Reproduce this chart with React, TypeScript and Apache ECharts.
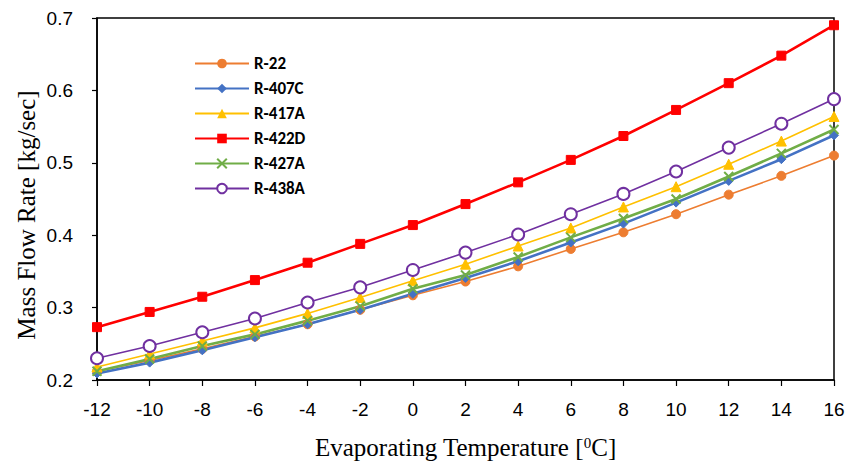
import React, { useEffect, useRef } from "react";
import * as echarts from "echarts";

// Evaporating temperature, °C
const temps = [-12, -10, -8, -6, -4, -2, 0, 2, 4, 6, 8, 10, 12, 14, 16];

// Mass flow rate, kg/sec
const r22 = [0.212, 0.227, 0.243, 0.26, 0.277, 0.297, 0.317, 0.336, 0.357, 0.381, 0.404, 0.429, 0.456, 0.482, 0.51];
const r407c = [0.209, 0.224, 0.241, 0.259, 0.277, 0.297, 0.319, 0.341, 0.364, 0.39, 0.416, 0.445, 0.475, 0.505, 0.538];
const r417a = [0.218, 0.236, 0.254, 0.272, 0.292, 0.314, 0.337, 0.36, 0.385, 0.41, 0.439, 0.467, 0.498, 0.53, 0.564];
const r422d = [0.273, 0.294, 0.315, 0.338, 0.362, 0.388, 0.414, 0.443, 0.473, 0.504, 0.537, 0.573, 0.61, 0.648, 0.69];
const r427a = [0.212, 0.229, 0.247, 0.263, 0.282, 0.302, 0.326, 0.345, 0.37, 0.397, 0.423, 0.45, 0.481, 0.513, 0.546];
const r438a = [0.23, 0.247, 0.266, 0.285, 0.307, 0.328, 0.352, 0.376, 0.401, 0.429, 0.457, 0.488, 0.521, 0.554, 0.588];

const xTicks = temps;
const yTicks = [0.2, 0.3, 0.4, 0.5, 0.6, 0.7];

const tickFont = "'Liberation Sans Narrow', 'Liberation Sans', Arial, sans-serif";
const serif = "'Liberation Serif', 'Times New Roman', serif";

const pairs = (vals: number[]) => temps.map((t, i) => [t, vals[i]]);

const crossSymbol = "path://M0,0L10,10M10,0L0,10";

export default function App() {
  const ref = useRef<HTMLDivElement>(null);

  useEffect(() => {
    if (!ref.current) return;
    const chart = echarts.init(ref.current, null, { renderer: "svg" });

    const mk = (
      name: string,
      vals: number[],
      color: string,
      symbol: string,
      symbolSize: number,
      width: number,
      extra: any = {}
    ) => ({
      name,
      type: "line",
      data: pairs(vals),
      symbol,
      symbolSize,
      showSymbol: true,
      lineStyle: { color, width },
      itemStyle: { color, borderColor: color, ...(extra.itemStyle || {}) },
      z: 2,
    });

    chart.setOption({
      animation: false,
      backgroundColor: "#ffffff",
      grid: {
        left: 97,
        right: 15,
        top: 18,
        bottom: 88,
        show: true,
        borderColor: "#000000",
        borderWidth: 1.5,
        backgroundColor: "transparent",
      },
      legend: {
        orient: "vertical",
        left: 189,
        top: 50,
        itemWidth: 54,
        itemHeight: 12,
        itemGap: 8,
        textStyle: {
          fontFamily: "Carlito, 'Liberation Sans', Arial, sans-serif",
          fontWeight: "bold",
          fontSize: 17,
          color: "#000",
        },
        data: ["R-22", "R-407C", "R-417A", "R-422D", "R-427A", "R-438A"],
      },
      // Y-axis title, placed by hand so it sits beside the tick labels
      graphic: [
        {
          type: "text",
          x: 26,
          y: 215,
          rotation: Math.PI / 2,
          style: {
            text: "Mass Flow Rate [kg/sec]",
            font: `25px ${serif}`,
            fill: "#000",
            align: "center",
            verticalAlign: "middle",
          },
        },
      ],
      xAxis: {
        type: "value",
        min: xTicks[0],
        max: xTicks[xTicks.length - 1],
        interval: 2,
        name: "Evaporating Temperature [{sup|0}C]",
        nameLocation: "middle",
        nameGap: 55,
        nameTextStyle: {
          fontFamily: serif,
          fontSize: 25,
          color: "#000",
          rich: {
            sup: { fontFamily: serif, fontSize: 15, verticalAlign: "top", padding: [0, 0, 10, 0], color: "#000" },
          },
        },
        axisLine: { show: true, onZero: false, lineStyle: { color: "#000", width: 1.5 } },
        axisTick: { show: true, inside: false, length: 6, lineStyle: { color: "#000", width: 1.2 } },
        splitLine: { show: false },
        axisLabel: {
          fontFamily: tickFont,
          fontSize: 19,
          color: "#000",
          margin: 20,
        },
      },
      yAxis: {
        type: "value",
        min: yTicks[0],
        max: yTicks[yTicks.length - 1],
        interval: 0.1,
        axisLine: { show: true, onZero: false, lineStyle: { color: "#000", width: 1.5 } },
        axisTick: { show: true, inside: false, length: 5, lineStyle: { color: "#000", width: 1.2 } },
        splitLine: { show: false },
        axisLabel: {
          fontFamily: tickFont,
          fontSize: 19,
          color: "#000",
          margin: 24,
          formatter: (v: number) => v.toFixed(1),
        },
      },
      series: [
        mk("R-22", r22, "#ED7D31", "circle", 9, 1.6),
        mk("R-407C", r407c, "#4472C4", "diamond", 9, 2.6),
        mk("R-417A", r417a, "#FFC000", "triangle", 10, 1.6),
        mk("R-422D", r422d, "#FF0000", "rect", 9, 2.6),
        mk("R-427A", r427a, "#70AD47", crossSymbol, 9, 2.6, {
          itemStyle: { borderWidth: 2 },
        }),
        mk("R-438A", r438a, "#7030A0", "emptyCircle", 12, 1.6, {
          itemStyle: { borderWidth: 1.6 },
        }),
      ],
    });

    return () => chart.dispose();
  }, []);

  return <div ref={ref} style={{ width: 849, height: 468, position: "absolute", left: 0, top: 0 }} />;
}
